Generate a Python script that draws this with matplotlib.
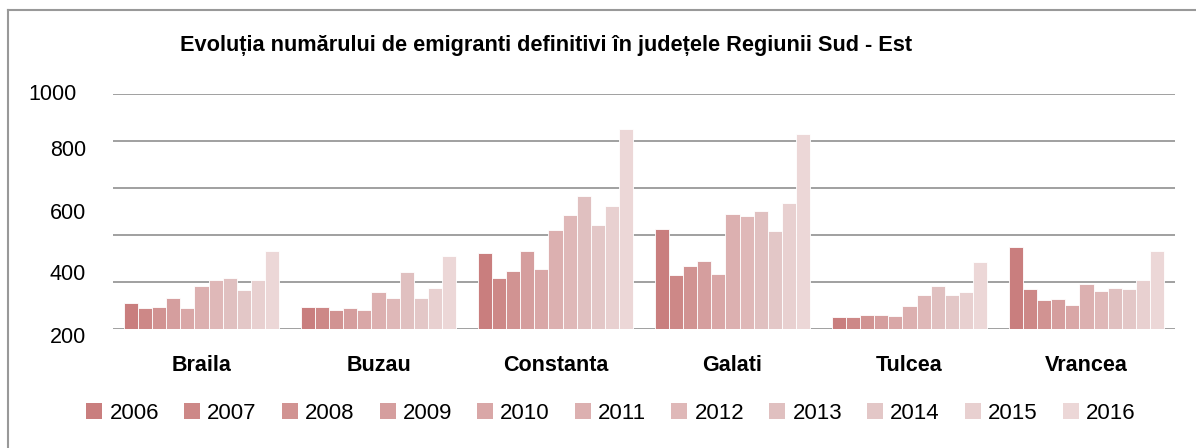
import matplotlib
matplotlib.use("Agg")
import matplotlib.pyplot as plt
from matplotlib.patches import Patch
from matplotlib.lines import Line2D
import numpy as np

plt.rcParams['font.family'] = ['Liberation Sans', 'DejaVu Sans']

judete = ["Braila", "Buzau", "Constanta", "Galati", "Tulcea", "Vrancea"]
ani = ["2006", "2007", "2008", "2009", "2010", "2011",
       "2012", "2013", "2014", "2015", "2016"]

# one list per county, years 2006..2016
braila = [111, 89, 94, 132, 89, 182, 208, 217, 166, 208, 332]
buzau = [94, 94, 81, 89, 81, 156, 132, 241, 132, 174, 311]
constanta = [323, 216, 247, 330, 255, 421, 485, 566, 442, 525, 851]
galati = [425, 228, 267, 289, 234, 489, 481, 502, 417, 536, 830]
tulcea = [51, 51, 60, 60, 55, 99, 145, 182, 145, 157, 284]
vrancea = [347, 170, 123, 128, 102, 193, 160, 174, 170, 208, 330]

# y labels as printed in the original (they do not sit on the grid lines)
y_labels = ["1000", "800", "600", "400", "200"]
y_label_px = [(77, 95), (86, 151), (86, 213), (86, 275), (86, 337)]

culori = ["#C97E7E", "#CD8887", "#D19392", "#D59E9E", "#D9A7A7", "#DCB0B0",
          "#DFB8B8", "#E0C0C0", "#E3C7C7", "#E8D0D0", "#ECD7D7"]

valori = np.array([braila, buzau, constanta, galati, tulcea, vrancea])

W, H = 1196, 448
fig = plt.figure(figsize=(W / 100, H / 100), dpi=100)
ax = fig.add_axes([113 / W, 1 - 329 / H, (1175 - 113) / W, (329 - 94) / H])

x = np.arange(len(judete))
bw = 0.0791
for i, an in enumerate(ani):
    ax.bar(x + (i - 5) * bw, valori[:, i], width=bw, color=culori[i],
           edgecolor="white", linewidth=0.6, label=an, zorder=3)

ax.set_xlim(-0.5, len(judete) - 0.5)
ax.set_ylim(0, 1000)
ax.set_yticks(np.arange(0, 1001, 200))
ax.yaxis.grid(True, color="#999999", linewidth=1.3, zorder=1)
ax.tick_params(axis="both", length=0)
ax.set_yticklabels([])
ax.set_xticks(x)
ax.set_xticklabels(judete, fontsize=15.5, fontweight="bold")
ax.tick_params(axis="x", pad=19)
for s in ax.spines.values():
    s.set_visible(False)

for lab, (px, py) in zip(y_labels, y_label_px):
    fig.text(px / W, 1 - py / H, lab, ha="right", va="center", fontsize=15.5)

fig.text(180 / W, 1 - 45 / H,
         "Evoluția numărului de emigranti definitivi în județele Regiunii Sud - Est",
         ha="left", va="center", fontsize=15.7, fontweight="bold")

handles = [Patch(facecolor=c, edgecolor="none") for c in culori]
fig.legend(handles, ani, loc="center", bbox_to_anchor=(611 / W, 1 - 413 / H),
           ncol=11, frameon=False, fontsize=16, handlelength=0.72,
           handleheight=0.72, handletextpad=0.32, columnspacing=1.13,
           borderpad=0)

# outer frame: only top and left edges are visible
fig.add_artist(Line2D([8 / W, 1], [1 - 10 / H, 1 - 10 / H], color="#999999",
                      linewidth=1.5, transform=fig.transFigure))
fig.add_artist(Line2D([8 / W, 8 / W], [0, 1 - 10 / H], color="#999999",
                      linewidth=1.5, transform=fig.transFigure))

fig.savefig("out.png", dpi=100)
